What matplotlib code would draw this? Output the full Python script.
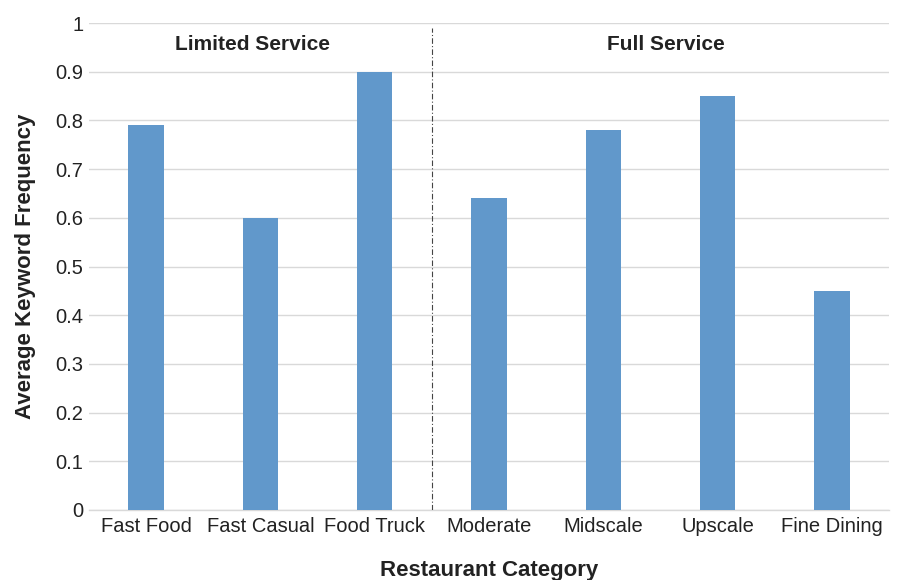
import matplotlib
matplotlib.use('Agg')
import matplotlib.pyplot as plt
import numpy as np

plt.rcParams['font.family'] = ['Liberation Sans', 'DejaVu Sans']

categories = ['Fast Food', 'Fast Casual', 'Food Truck', 'Moderate', 'Midscale', 'Upscale', 'Fine Dining']
values = [0.79, 0.60, 0.90, 0.64, 0.78, 0.85, 0.45]
groups = ['Limited Service', 'Full Service']
yticks = [0, 0.1, 0.2, 0.3, 0.4, 0.5, 0.6, 0.7, 0.8, 0.9, 1]
ytick_labels = ['0', '0.1', '0.2', '0.3', '0.4', '0.5', '0.6', '0.7', '0.8', '0.9', '1']

fig = plt.figure(figsize=(8.98, 5.80), dpi=100)
ax = fig.add_axes([0.0991, 0.1207, 0.8909, 0.8396])

x = np.arange(len(categories))
ax.bar(x, values, width=0.31, color='#6198cb', zorder=3)

ax.set_xlim(-0.5, len(categories) - 0.5)
ax.set_ylim(0, 1)
ax.set_yticks(yticks)
ax.set_yticklabels(ytick_labels)
ax.set_xticks(x)
ax.set_xticklabels(categories)
ax.tick_params(axis='both', length=0, labelsize=14.5, colors='#222222')
ax.tick_params(axis='x', pad=5)
ax.tick_params(axis='y', pad=4)

ax.yaxis.grid(True, color='#d9d9d9', linewidth=1, zorder=0)
for s in ['top', 'right', 'left']:
    ax.spines[s].set_visible(False)
ax.spines['bottom'].set_color('#d9d9d9')
ax.spines['bottom'].set_linewidth(1)

# divider between limited and full service
ax.plot([2.5, 2.5], [0, 0.99], color='#444444', linewidth=0.8, linestyle=(0, (5, 2, 1, 2)), zorder=4)

ax.text(0.93, 0.955, groups[0], ha='center', va='center', fontsize=15, fontweight='bold', color='#222222')
ax.text(4.55, 0.955, groups[1], ha='center', va='center', fontsize=15, fontweight='bold', color='#222222')

ax.set_ylabel('Average Keyword Frequency', fontsize=16, fontweight='bold', color='#222222', labelpad=14)
ax.set_xlabel('Restaurant Category', fontsize=16, fontweight='bold', color='#222222', labelpad=17)

fig.savefig('out.png', dpi=100)
